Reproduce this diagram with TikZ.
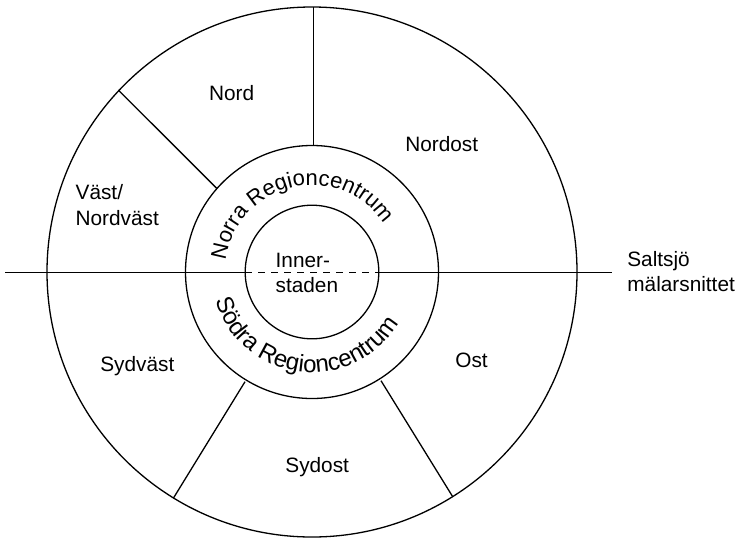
\documentclass[tikz,border=0pt]{standalone}
\usepackage{fontspec}
\setmainfont{Liberation Sans}
\usetikzlibrary{decorations.text}
\begin{document}
\begin{tikzpicture}[x=0.5pt,y=0.5pt,line width=0.65pt,
  lbl/.style={font=\fontsize{10.4}{12.8}\selectfont, inner sep=0pt},
  mlbl/.style={lbl, align=left},
  ringtext/.style={decorate}]
\useasboundingbox (0,0) rectangle (738,538);
\coordinate (c) at (312,266);
% rings
\draw (c) circle[radius=265];
\draw (c) circle[radius=126.5];
\draw (c) circle[radius=66.8];
% horizontal divider
\coordinate (hl) at (5,265.7);
\coordinate (il) at (245.2,265.7);
\coordinate (ir) at (378.8,265.7);
\coordinate (hr) at (611.7,265.7);
\draw (hl) -- (il);
\draw[dash pattern=on 3.5pt off 3pt] (il) -- (ir);
\draw (ir) -- (hr);
% radial dividers
\coordinate (n1) at (313.3,531);
\coordinate (n2) at (313.3,392.5);
\coordinate (w1) at (118.3,448);
\coordinate (w2) at (216.7,349.7);
\coordinate (s1) at (245,156.3);
\coordinate (s2) at (173.3,39.7);
\coordinate (e1) at (381,157.3);
\coordinate (e2) at (452.7,41.3);
\draw (n1) -- (n2);
\draw (w1) -- (w2);
\draw (s1) -- (s2);
\draw (e1) -- (e2);
% labels
\node[lbl, anchor=base] (nord) at (231.7,438) {Nord};
\node[lbl, anchor=base] (nordost) at (441.7,387) {Nordost};
\node[lbl, anchor=base] (sydvast) at (137.3,166.3) {Sydväst};
\node[lbl, anchor=base] (ost) at (471.5,170.3) {Ost};
\node[lbl, anchor=base] (sydost) at (317.2,65.3) {Sydost};
\node[mlbl, anchor=base west] (vast) at (75,313) {Väst/\\Nordväst};
\node[mlbl, anchor=base west] (inner) at (275,245.3) {Inner-\\staden};
\node[mlbl, anchor=base west] (salt) at (626.7,246.3) {Saltsjö\\mälarsnittet};
% curved texts
\path[ringtext, decoration={text along path, text align=center,
  text={|\fontsize{11}{13}\selectfont|Norra Regioncentrum}}]
  ([shift={(180:87)}]c) arc[start angle=180, end angle=26, radius=87];
\path[ringtext, decoration={text along path, text align=center,
  text={|\fontsize{12}{14}\selectfont|Södra Regioncentrum}}]
  ([shift={(192:100.5)}]c) arc[start angle=192, end angle=334, radius=100.5];
\end{tikzpicture}
\end{document}
